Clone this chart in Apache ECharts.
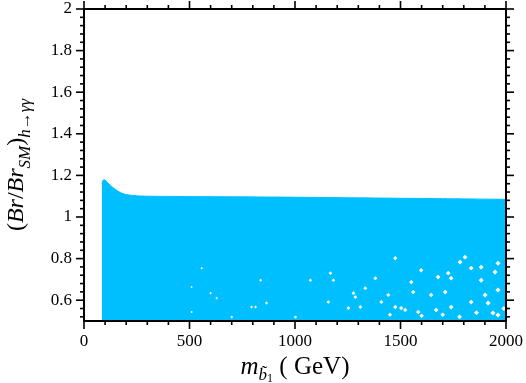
<!DOCTYPE html>
<html>
<head>
<meta charset="utf-8">
<script src="https://cdn.jsdelivr.net/npm/echarts@6/dist/echarts.min.js"></script>
<style>
  html, body { margin: 0; padding: 0; background: #fff; }
  #chart { width: 526px; height: 383px; }
</style>
</head>
<body>
<div id="chart"></div>
<script>
// upper edge of the allowed region (m_b1 in GeV, ratio)
const edgeX = [85, 90, 95, 100, 110, 125, 150, 175, 200, 250, 300, 400, 500, 700, 1000, 1300, 1600, 1800, 2000];
const edgeY = [1.16, 1.176, 1.179, 1.177, 1.168, 1.152, 1.132, 1.116, 1.108, 1.102, 1.100, 1.099, 1.098, 1.097, 1.095, 1.092, 1.089, 1.087, 1.085];

// empty spots inside the scanned points
const holeX = [1740, 1806, 1835, 1962, 1835, 1584, 1522, 1669, 1740, 1915, 1962, 1882, 1948, 1551, 1560, 1645, 1712, 1782, 1962, 1901,
  1598, 1726, 1073, 1158, 1310, 1409, 1381, 1253, 1475, 1002, 1286, 1182, 1442, 1333, 600, 794, 510, 510, 629, 558,
  837, 865, 700, 1503, 1938, 1882, 1475, 1168, 1277, 1678, 813, 1600, 1700, 1780, 1860, 1990, 1450];
const holeY = [0.706, 0.807, 0.754, 0.649, 0.591, 0.543, 0.553, 0.553, 0.567, 0.586, 0.529, 0.696, 0.735, 0.687, 0.639, 0.625, 0.639, 0.783, 0.778, 0.625,
  0.744, 0.73, 0.696, 0.591, 0.567, 0.591, 0.706, 0.562, 0.567, 0.519, 0.615, 0.696, 0.625, 0.658, 0.634, 0.567, 0.543, 0.663, 0.61, 0.754,
  0.696, 0.586, 0.519, 0.562, 0.538, 0.759, 0.802, 0.73, 0.634, 0.711, 0.567, 0.525, 0.53, 0.52, 0.54, 0.56, 0.53];

const yLabels = [0.6, 0.8, 1, 1.2, 1.4, 1.6, 1.8, 2];
const xLabels = [0, 500, 1000, 1500, 2000];

// tick positions (major ones are the labelled values)
const xTicks = [];
for (let v = 0; v <= 2000; v += 100) xTicks.push(v);
const yTicks = [];
for (let v = 0.52; v < 2.01; v += 0.04) yTicks.push(+v.toFixed(2));

const FONT = 'Liberation Serif';
const BLUE = '#00BFFF';

const edgeData = edgeX.map((x, i) => [x, edgeY[i]]);
const holeData = holeX.map((x, i) => [x, holeY[i]]);

const chart = echarts.init(document.getElementById('chart'));

function xAxisCfg(pos, withLabels) {
  return {
    type: 'value',
    position: pos,
    min: 0,
    max: 2000,
    interval: 500,
    axisLine: { show: false },
    axisTick: { show: false },
    axisLabel: {
      show: withLabels, color: '#000', fontSize: 17, fontFamily: FONT, margin: 12,
      formatter: v => String(v)
    },
    splitLine: { show: false }
  };
}

function yAxisCfg(pos, withLabels) {
  return {
    type: 'value',
    position: pos,
    min: 0.5,
    max: 2,
    axisLine: { show: false },
    axisTick: { show: false },
    axisLabel: {
      show: withLabels, color: '#000', fontSize: 17, fontFamily: FONT, margin: 12,
      customValues: yLabels
    },
    splitLine: { show: false }
  };
}

const xBottom = xAxisCfg('bottom', true);
xBottom.name = '{i|m}{s|b\u0303}{ss|1}{n| ( GeV)}';
xBottom.nameLocation = 'middle';
xBottom.nameGap = 20;
xBottom.nameTextStyle = {
  color: '#000',
  rich: {
    i: { fontSize: 25, fontFamily: FONT, fontStyle: 'italic', lineHeight: 34 },
    n: { fontSize: 25, fontFamily: FONT, lineHeight: 34 },
    s: { fontSize: 17, fontFamily: FONT, fontStyle: 'italic', lineHeight: 20, verticalAlign: 'bottom' },
    ss: { fontSize: 12, fontFamily: FONT, lineHeight: 8, verticalAlign: 'bottom' }
  }
};

const yLeft = yAxisCfg('left', true);
yLeft.name = '{n|(}{i|Br}{n|/}{i|Br}{s|SM}{n|)}{s|h\u2192\u03b3\u03b3}';
yLeft.nameLocation = 'middle';
yLeft.nameRotate = 90;
yLeft.nameGap = 50;
yLeft.nameTextStyle = {
  color: '#000',
  rich: {
    i: { fontSize: 24, fontFamily: FONT, fontStyle: 'italic', lineHeight: 34 },
    n: { fontSize: 24, fontFamily: FONT, lineHeight: 34 },
    s: { fontSize: 17, fontFamily: FONT, fontStyle: 'italic', lineHeight: 17, verticalAlign: 'bottom' }
  }
};

const tickStyle = { stroke: '#000', lineWidth: 1.6 };

// x ticks on bottom and top edges, pointing out of the frame
function renderXTick(params, api) {
  const v = api.value(0);
  const len = xLabels.indexOf(v) >= 0 ? 8 : 4;
  const b = api.coord([v, 0.5]);
  const t = api.coord([v, 2]);
  return {
    type: 'group',
    children: [
      { type: 'line', shape: { x1: b[0], y1: b[1], x2: b[0], y2: b[1] + len }, style: tickStyle },
      { type: 'line', shape: { x1: t[0], y1: t[1], x2: t[0], y2: t[1] - len }, style: tickStyle }
    ]
  };
}

// y ticks on left and right edges
function renderYTick(params, api) {
  const v = api.value(1);
  const len = yLabels.indexOf(v) >= 0 ? 8 : 4;
  const l = api.coord([0, v]);
  const r = api.coord([2000, v]);
  return {
    type: 'group',
    children: [
      { type: 'line', shape: { x1: l[0], y1: l[1], x2: l[0] - len, y2: l[1] }, style: tickStyle },
      { type: 'line', shape: { x1: r[0], y1: r[1], x2: r[0] + len, y2: r[1] }, style: tickStyle }
    ]
  };
}

const option = {
  backgroundColor: '#fff',
  animation: false,
  grid: {
    left: 84, right: 20, top: 9, bottom: 62, outerBoundsMode: 'none',
    show: true, borderColor: '#000', borderWidth: 2, backgroundColor: 'transparent', z: 5
  },
  xAxis: [xBottom, xAxisCfg('top', false)],
  yAxis: [yLeft, yAxisCfg('right', false)],
  series: [
    {
      name: 'scan',
      type: 'line',
      data: edgeData,
      smooth: 0.4,
      showSymbol: false,
      symbol: 'none',
      lineStyle: { color: BLUE, width: 1 },
      areaStyle: { color: BLUE, opacity: 1, origin: 'start' },
      z: 1
    },
    {
      name: 'gaps',
      type: 'scatter',
      data: holeData,
      symbol: 'diamond',
      symbolSize: v => 1.5 + v[0] / 550,
      itemStyle: { color: '#fff', opacity: 1 },
      z: 2
    },
    {
      name: 'xticks',
      type: 'custom',
      clip: false,
      silent: true,
      renderItem: renderXTick,
      data: xTicks.map(v => [v, 0.5]),
      z: 10
    },
    {
      name: 'yticks',
      type: 'custom',
      clip: false,
      silent: true,
      renderItem: renderYTick,
      data: yTicks.map(v => [0, v]),
      z: 10
    }
  ]
};

chart.setOption(option);
</script>
</body>
</html>
